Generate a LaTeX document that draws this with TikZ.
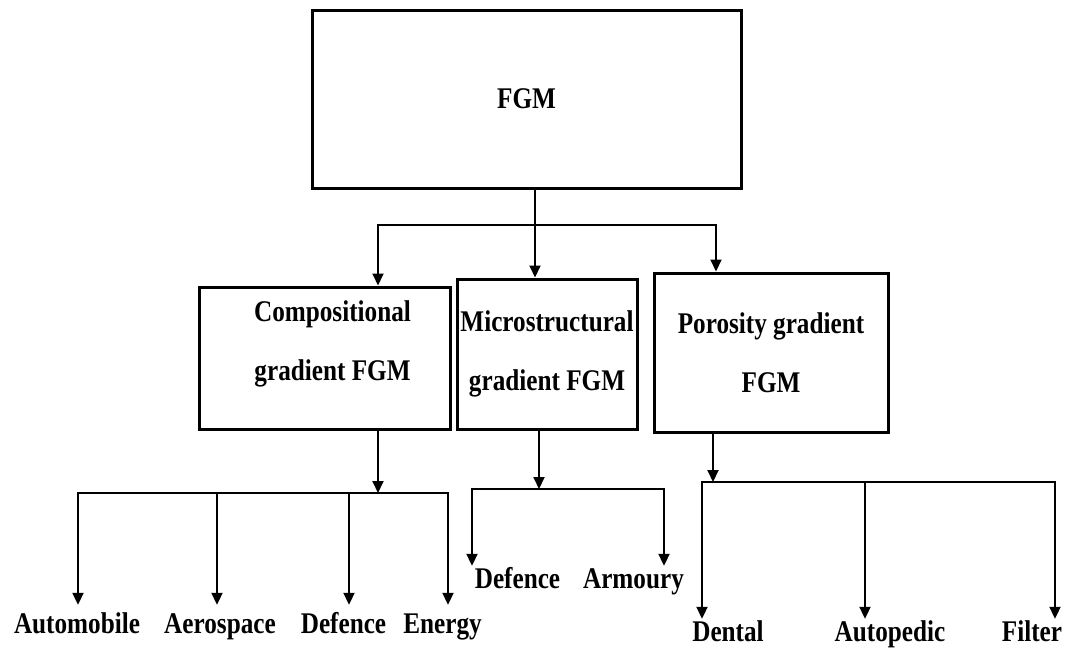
\documentclass[tikz,border=0pt]{standalone}
\usepackage{fontspec}
\setmainfont{Liberation Serif}[FakeStretch=0.84]
\usetikzlibrary{arrows.meta}

\begin{document}
\begin{tikzpicture}[x=1pt,y=-1pt,>={Triangle[width=11pt,length=12pt]},
  line join=miter,font=\fontsize{30}{59}\selectfont\bfseries,
  box/.style={draw,line width=3pt,align=center,inner sep=0pt},
  leaf/.style={anchor=base,inner xsep=0pt,inner ysep=2pt,text height=20pt,text depth=6pt},
  bar/.style={line width=2pt,line cap=rect},
  arr/.style={->,line width=2pt}]
\useasboundingbox (0,0) rectangle (1072,648);
% boxes
\node[box,minimum width=429pt,minimum height=178pt] (fgm) at (526.5,99) {FGM};
\node[box,minimum width=251pt,minimum height=142pt,
  label={[align=center,xshift=8pt,yshift=14pt]center:Compositional\\gradient FGM}] (comp) at (324.5,358) {};
\node[box,minimum width=180pt,minimum height=150pt] (micro) at (547,354) {Microstructural\\gradient FGM};
\node[box,minimum width=234pt,minimum height=159pt] (poro) at (771,352.5) {Porosity gradient\\FGM};
% applications
\node[leaf,inner ysep=8pt] (auto) at (77,633) {Automobile};
\node[leaf,inner ysep=8pt] (aero) at (220,633) {Aerospace};
\node[leaf,inner ysep=8pt] (defa) at (343.5,633) {Defence};
\node[leaf,inner ysep=8pt] (energy) at (442.5,633) {Energy};
\node[leaf] (defb) at (517.5,588) {Defence};
\node[leaf] (armo) at (633.5,588) {Armoury};
\node[leaf] (dental) at (728,641) {Dental};
\node[leaf] (autop) at (890,641) {Autopedic};
\node[leaf] (filter) at (1032,641) {Filter};
% branch points
\coordinate (tl) at (378,225); \coordinate (tr) at (716,225);
\coordinate (cb) at (378,493); \coordinate (cl) at (78,493); \coordinate (ca) at (217,493);
\coordinate (cd) at (349,493); \coordinate (cr) at (448,493);
\coordinate (mb) at (539,489); \coordinate (ml) at (472,489); \coordinate (mr) at (664,489);
\coordinate (pb) at (713,482); \coordinate (pl) at (702,482); \coordinate (pm) at (865,482);
\coordinate (pr) at (1055,482);
% first level
\draw[arr] ([xshift=8.5pt]fgm.south) -- ([xshift=8.5pt]fgm.south |- micro.north);
\draw[bar] (tl) -- (tr);
\draw[arr] (tl) -- (tl |- comp.north);
\draw[arr] (tr) -- (tr |- poro.north);
% second level
\draw[arr] (cb |- comp.south) -- (cb);
\draw[bar] (cl) -- (cr);
\draw[arr] (cl) -- (cl |- auto.north);
\draw[arr] (ca) -- (ca |- aero.north);
\draw[arr] (cd) -- (cd |- defa.north);
\draw[arr] (cr) -- (cr |- energy.north);
\draw[arr] (mb |- micro.south) -- (mb);
\draw[bar] (ml) -- (mr);
\draw[arr] (ml) -- (ml |- defb.north);
\draw[arr] (mr) -- (mr |- armo.north);
\draw[arr] (pb |- poro.south) -- (pb);
\draw[bar] (pl) -- (pr);
\draw[arr] (pl) -- (pl |- dental.north);
\draw[arr] (pm) -- (pm |- autop.north);
\draw[arr] (pr) -- (pr |- filter.north);
\end{tikzpicture}
\end{document}
